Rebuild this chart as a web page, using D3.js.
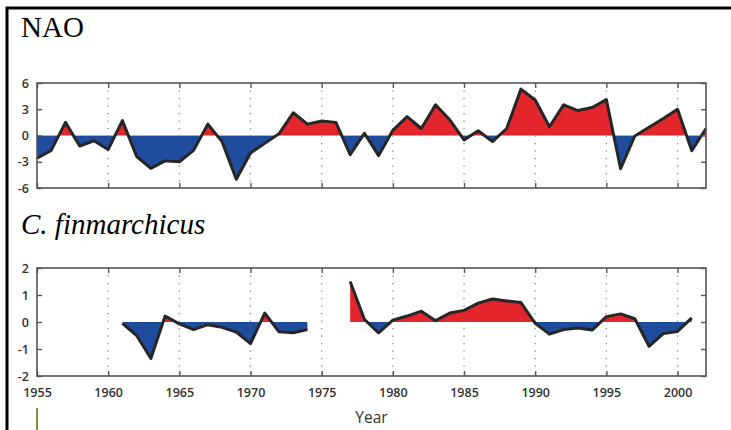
<!DOCTYPE html>
<html>
<head>
<meta charset="utf-8">
<script src="https://cdn.jsdelivr.net/npm/d3@7"></script>
<style>
  body { margin: 0; background: #fff; }
  svg { display: block; }
  .axis text { font-family: "Open Sans", sans-serif; font-size: 12.5px; font-weight: 600; fill: #333; }
  .axis line { stroke: #555; stroke-width: 1.4; }
  .axis path { display: none; }
  .titulo { font-family: "Liberation Serif", "Times New Roman", serif; font-size: 29px; fill: #000; }
</style>
</head>
<body>
<svg id="grafico" width="731" height="430"></svg>
<script>
// anos (categorias)
const years = [1955, 1956, 1957, 1958, 1959, 1960, 1961, 1962, 1963, 1964,
  1965, 1966, 1967, 1968, 1969, 1970, 1971, 1972, 1973, 1974,
  1975, 1976, 1977, 1978, 1979, 1980, 1981, 1982, 1983, 1984,
  1985, 1986, 1987, 1988, 1989, 1990, 1991, 1992, 1993, 1994,
  1995, 1996, 1997, 1998, 1999, 2000, 2001, 2002];

// indice NAO
const naoValues = [-2.6, -1.7, 1.5, -1.2, -0.6, -1.6, 1.7, -2.4, -3.75, -2.9,
  -3.0, -1.7, 1.3, -0.7, -5.0, -2.0, -0.9, 0.2, 2.6, 1.3,
  1.65, 1.5, -2.2, 0.25, -2.3, 0.6, 2.15, 0.8, 3.5, 1.8,
  -0.5, 0.55, -0.7, 0.8, 5.3, 4.05, 1.0, 3.5, 2.85, 3.2,
  4.1, -3.8, -0.05, 0.95, 1.95, 3.0, -1.75, 0.8];

// anomalia C. finmarchicus (null = sem dados)
const cfinValues = [null, null, null, null, null, null, -0.05, -0.5, -1.35, 0.22,
  -0.07, -0.28, -0.1, -0.2, -0.37, -0.8, 0.33, -0.36, -0.4, -0.28,
  null, null, 1.5, 0.1, -0.4, 0.07, 0.22, 0.4, 0.05, 0.33,
  0.43, 0.7, 0.85, 0.78, 0.72, -0.05, -0.45, -0.28, -0.22, -0.3,
  0.2, 0.3, 0.12, -0.9, -0.43, -0.35, 0.15, null];

const yearTicks = [1955, 1960, 1965, 1970, 1975, 1980, 1985, 1990, 1995, 2000];
const naoTicks = [-6, -3, 0, 3, 6];
const cfinTicks = [-2, -1, 0, 1, 2];

const svg = d3.select("#grafico");
const left = 37, right = 706;

const x = d3.scaleLinear()
  .domain([1955, 2002])
  .range([left, right]);

const yNao = d3.scaleLinear().domain([-6, 6]).range([188, 83]);
const yCfin = d3.scaleLinear().domain([-2, 2]).range([376, 268]);

// moldura externa
svg.append("path")
  .attr("d", "M7,430V8H731")
  .attr("fill", "none")
  .attr("stroke", "#000")
  .attr("stroke-width", 3);

// titulos
svg.append("text").attr("class", "titulo")
  .attr("x", 21).attr("y", 37).text("NAO");
svg.append("text").attr("class", "titulo")
  .attr("x", 21).attr("y", 234).attr("font-style", "italic").text("C. finmarchicus");

function painel(y, values, yTicks, id, showYears) {
  const data = years.map((yr, i) => ({ year: yr, v: values[i] }));
  const top = y.range()[1], bottom = y.range()[0];
  const g = svg.append("g");

  // linhas de grade pontilhadas
  g.selectAll(".grade")
    .data(yearTicks.filter(t => t > 1955))
    .join("line")
    .attr("x1", d => x(d)).attr("x2", d => x(d))
    .attr("y1", top).attr("y2", bottom)
    .attr("stroke", "#888")
    .attr("stroke-width", 1.3)
    .attr("stroke-dasharray", "1.3,6.2");

  // recortes acima / abaixo de zero
  const defs = g.append("defs");
  defs.append("clipPath").attr("id", id + "-pos")
    .append("rect").attr("x", left).attr("y", 0)
    .attr("width", right - left).attr("height", y(0));
  defs.append("clipPath").attr("id", id + "-neg")
    .append("rect").attr("x", left).attr("y", y(0))
    .attr("width", right - left).attr("height", bottom - y(0));

  const area = d3.area()
    .defined(d => d.v !== null)
    .x(d => x(d.year))
    .y0(y(0))
    .y1(d => y(d.v));

  g.append("path").datum(data)
    .attr("clip-path", `url(#${id}-pos)`)
    .attr("fill", "#e2262c")
    .attr("d", area);

  g.append("path").datum(data)
    .attr("clip-path", `url(#${id}-neg)`)
    .attr("fill", "#1f4c9c")
    .attr("d", area);

  const line = d3.line()
    .defined(d => d.v !== null)
    .x(d => x(d.year))
    .y(d => y(d.v));

  g.append("path").datum(data)
    .attr("fill", "none")
    .attr("stroke", "#262626")
    .attr("stroke-width", 3)
    .attr("stroke-linejoin", "round")
    .attr("d", line);

  // eixos
  g.append("g").attr("class", "axis")
    .attr("transform", `translate(0,${bottom})`)
    .call(d3.axisBottom(x).tickValues(yearTicks).tickSize(-5).tickPadding(12)
      .tickFormat(d => showYears ? String(d) : ""));

  g.append("g").attr("class", "axis")
    .attr("transform", `translate(0,${top})`)
    .call(d3.axisTop(x).tickValues(yearTicks).tickSize(-5).tickFormat(""));

  g.append("g").attr("class", "axis")
    .attr("transform", `translate(${left},0)`)
    .call(d3.axisLeft(y).tickValues(yTicks).tickSize(-5).tickPadding(8)
      .tickFormat(d => String(d)));

  g.append("g").attr("class", "axis")
    .attr("transform", `translate(${right},0)`)
    .call(d3.axisRight(y).tickValues(yTicks).tickSize(-5).tickFormat(""));

  // moldura do grafico
  g.append("rect")
    .attr("x", left).attr("y", top)
    .attr("width", right - left).attr("height", bottom - top)
    .attr("fill", "none")
    .attr("stroke", "#555")
    .attr("stroke-width", 1.6);
}

painel(yNao, naoValues, naoTicks, "nao", false);
painel(yCfin, cfinValues, cfinTicks, "cfin", true);

// rotulo do eixo x
svg.append("text")
  .attr("x", (x(1955) + x(2002)) / 2)
  .attr("y", 423)
  .attr("text-anchor", "middle")
  .attr("font-family", "Open Sans, sans-serif")
  .attr("font-size", 15.5)
  .attr("fill", "#333")
  .text("Year");

// marca verde no canto
svg.append("line")
  .attr("x1", left).attr("x2", left)
  .attr("y1", 408).attr("y2", 430)
  .attr("stroke", "#7f9a3e")
  .attr("stroke-width", 2);
</script>
</body>
</html>
